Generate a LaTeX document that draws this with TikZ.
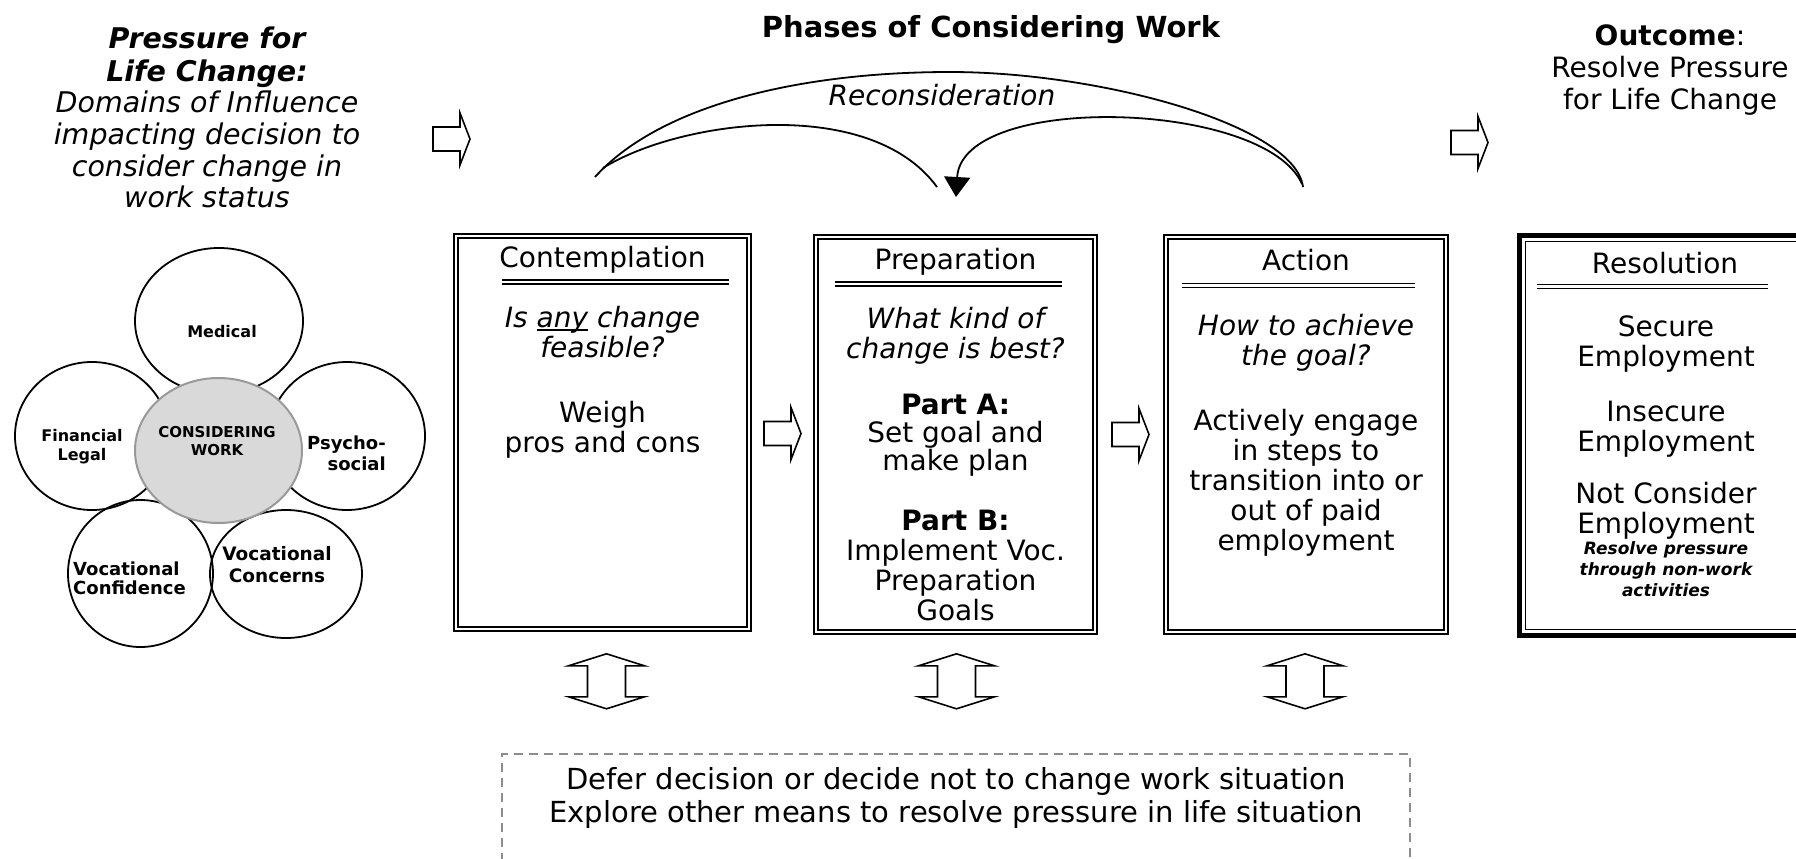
\documentclass[tikz,border=0pt]{standalone}
\usepackage{fontspec}
\setmainfont{DejaVu Sans}
\usetikzlibrary{shapes.geometric,arrows.meta,calc}
% underline drawn as a rule of fixed weight
\newcommand\undl[1]{\setbox0\hbox{#1}\rlap{\rule[-3.2pt]{\wd0}{1.4pt}}\box0\relax}
\begin{document}
\begin{tikzpicture}[x=1pt,y=-1pt,
  phase/.style={draw,double,double distance=2.8pt,line width=1.6pt,inner sep=0pt,rectangle},
  hdr/.style={inner sep=0pt,anchor=base,font=\fontsize{28}{30}\selectfont},
  body/.style={inner sep=0pt,anchor=north,align=center,execute at begin node=\strut,font=\fontsize{28}{30}\selectfont},
  itbody/.style={body,font=\fontsize{28}{30}\selectfont\itshape},
  rule2/.style={double,double distance=2.6pt,line width=1.4pt},
  bubble/.style={ellipse,draw,line width=1.8pt,inner sep=0pt},
  loopline/.style={line width=1.8pt},
  rblock/.pic={\draw[line width=1.6pt,line join=miter]
     (-18.5,-12) -- (8.5,-12) -- (8.5,-26) -- (18.5,0) -- (8.5,26) -- (8.5,12) -- (-18.5,12) -- cycle;},
  udblock/.pic={\draw[line width=1.6pt,line join=miter]
     (0,-27.5) -- (38,-15.5) -- (19,-15.5) -- (19,15.5) -- (38,15.5) -- (0,27.5)
     -- (-38,15.5) -- (-19,15.5) -- (-19,-15.5) -- (-38,-15.5) -- cycle;}
]
\useasboundingbox (0,0) rectangle (1796,859);

% ---------- domains of influence ----------
\node[bubble,minimum width=168pt,minimum height=146pt] (med) at (219,321) {};
\node[bubble,minimum width=154pt,minimum height=148pt] (fin) at (92,436) {};
\node[bubble,minimum width=156pt,minimum height=148pt] (psy) at (347,436) {};
\node[bubble,minimum width=145pt,minimum height=147pt] (vcf) at (140.5,573.5) {};
\node[bubble,minimum width=152pt,minimum height=128pt] (vcn) at (286,574) {};
\node[ellipse,draw=black!40,line width=2pt,fill=black!15,inner sep=0pt,
      minimum width=167pt,minimum height=145pt] (cw) at (218.5,450.5) {};

\node[hdr,font=\fontsize{16}{19}\selectfont\bfseries] (medl) at (222,337) {Medical};
\node[body,font=\fontsize{16}{19}\selectfont\bfseries] (finl) at (82,428.7) {Financial\\Legal};
\node[body,font=\fontsize{15}{18}\selectfont\bfseries] (cwl) at (217,426.4) {CONSIDERING\\WORK};
\node[body,anchor=north east,align=right,font=\fontsize{18}{21}\selectfont\bfseries] (psyl) at (386,435.3) {Psycho-\\social};
\node[body,anchor=north west,align=left,font=\fontsize{18}{19}\selectfont\bfseries] (vcfl) at (73,561.7) {Vocational\\Confidence};
\node[body,font=\fontsize{18.5}{22}\selectfont\bfseries] (vcnl) at (277,546.6) {Vocational\\Concerns};

% ---------- headings ----------
\node[body,font=\fontsize{28.5}{33}\selectfont\bfseries\itshape] (lt1) at (207,27) {Pressure for\\Life Change:};
\node[body,font=\fontsize{28.5}{31.7}\selectfont\itshape] (lt2) at (207,91) {Domains of Influence\\impacting decision to\\consider change in\\work status};
\node[hdr,font=\fontsize{29}{30}\selectfont\bfseries] (ttl) at (991,37.5) {Phases of Considering Work};
\node[body,font=\fontsize{28}{32}\selectfont] (out) at (1670,24.6) {\textbf{Outcome}:\\Resolve Pressure\\for Life Change};

% ---------- phase boxes ----------
\node[phase,minimum width=293pt,minimum height=393pt] (con) at (602.5,432.5) {};
\node[phase,minimum width=279pt,minimum height=395pt] (prep) at (955.5,434.5) {};
\node[phase,minimum width=280pt,minimum height=395pt] (act) at (1306,434.5) {};
\node[draw,line width=5pt,inner sep=0pt,minimum width=295pt,minimum height=400pt] (res) at (1667,435.5) {};
\draw[line width=1.8pt] ([shift={(8.5,8.5)}]res.north west) rectangle ([shift={(-8.5,-8.5)}]res.south east);

\draw[rule2] (502,282) -- (729,282);
\draw[rule2] (835,284) -- (1062,284);
\draw[rule2] (1182,285.5) -- (1415,285.5);
\draw[rule2] (1537,286.5) -- (1768,286.5);

% Contemplation
\node[hdr] (conh) at (602.5,267) {Contemplation};
\node[itbody] (conq) at (602.5,306) {Is \undl{any} change\\feasible?};
\node[body] (conb) at (602.5,401) {Weigh\\pros and cons};

% Preparation
\node[hdr] (preph) at (955.5,269) {Preparation};
\node[itbody] (prepq) at (955.5,307) {What kind of\\change is best?};
\node[body,font=\fontsize{28}{28}\selectfont] (prepa) at (955.5,394) {\textbf{Part A:}\\Set goal and\\make plan};
\node[body] (prepb) at (955.5,510) {\textbf{Part B:}\\Implement Voc.\\Preparation\\Goals};

% Action
\node[hdr] (acth) at (1306,270) {Action};
\node[itbody] (actq) at (1306,314) {How to achieve\\the goal?};
\node[body] (actb) at (1306,409) {Actively engage\\in steps to\\transition into or\\out of paid\\employment};

% Resolution
\node[hdr] (resh) at (1665,273) {Resolution};
\node[body] (res1) at (1666,316) {Secure\\Employment};
\node[body] (res2) at (1666,401) {Insecure\\Employment};
\node[body] (res3) at (1666,482) {Not Consider\\Employment};
\node[body,font=\fontsize{17}{21}\selectfont\bfseries\itshape] (res4) at (1666,541.3) {Resolve pressure\\through non-work\\activities};

% ---------- block arrows ----------
\pic at (451.5,139) {rblock};
\pic at ($(con.east)!0.5!(prep.west)$) {rblock};
\pic at ($(prep.east)!0.5!(act.west)$) {rblock};
\pic at (1469.5,142.5) {rblock};

\pic at ($(con.south)+(4,51.5)$) {udblock};
\pic at ($(prep.south)+(1,48.5)$) {udblock};
\pic at ($(act.south)+(-1,48.5)$) {udblock};

% ---------- deferral box ----------
\node[draw=black!45,dash pattern=on 9pt off 6pt,line width=1.5pt,inner sep=0pt,
      minimum width=908pt,minimum height=140pt] (defer) at (956,824) {};
\node[body,font=\fontsize{29}{33}\selectfont] (dtxt) at (956,767) {Defer decision or decide not to change work situation\\Explore other means to resolve pressure in life situation};

% ---------- reconsideration loop ----------
\coordinate (aL) at (595,177);
\coordinate (aTop) at (950,72);
\coordinate (aR) at (1303,187);
\coordinate (lS) at (603,168);
\coordinate (lE) at (937,187);
\coordinate (rS) at (1302,184);
\coordinate (rE) at (956,197);
\draw[loopline] (aL) .. controls (660,105) and (800,72) .. (aTop) .. controls (1100,72) and (1295,125) .. (aR);
\draw[loopline] (lS) .. controls (680,120) and (870,95) .. (lE);
\draw[loopline,-{Triangle[width=26pt,length=20pt]}] (rS) .. controls (1265,100) and (962,92) .. (rE);
\node[hdr,font=\fontsize{28}{30}\selectfont\itshape] (rec) at (942,105) {Reconsideration};

\end{tikzpicture}
\end{document}
